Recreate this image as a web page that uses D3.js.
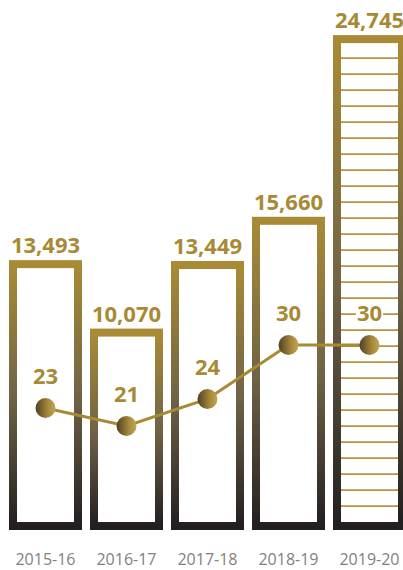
<!DOCTYPE html>
<html>
<head>
<meta charset="utf-8">
<script src="https://cdn.jsdelivr.net/npm/d3@7"></script>
<style>
html,body{margin:0;padding:0;background:#fff;}
svg{display:block;}
</style>
</head>
<body>
<script>
const years = ["2015-16","2016-17","2017-18","2018-19","2019-20"];
const barValues = [13493, 10070, 13449, 15660, 24745];
const lineValues = [23, 21, 24, 30, 30];
const barLabels = ["13,493","10,070","13,449","15,660","24,745"];
const lineLabels = ["23","21","24","30","30"];
const highlightIndex = 4; // striped bar

const W = 403, H = 570;
const gold = "#a88a35";
const stroke = 8;

const svg = d3.select("body").append("svg").attr("width", W).attr("height", H);
const defs = svg.append("defs");

const bg = defs.append("linearGradient").attr("id","barGrad")
  .attr("x1",0).attr("y1",0).attr("x2",0).attr("y2",1);
bg.append("stop").attr("offset","0%").attr("stop-color","#a98b35");
bg.append("stop").attr("offset","50%").attr("stop-color","#716446");
bg.append("stop").attr("offset","100%").attr("stop-color","#231f20");

const cg = defs.append("linearGradient").attr("id","dotGrad")
  .attr("x1",0).attr("y1",0).attr("x2",1).attr("y2",0);
cg.append("stop").attr("offset","0%").attr("stop-color","#4f4024");
cg.append("stop").attr("offset","60%").attr("stop-color","#a4863a");
cg.append("stop").attr("offset","100%").attr("stop-color","#c4a656");

const x = d3.scaleBand().domain(years).range([9, 406]).paddingInner(8/81).paddingOuter(0);
const bw = x.bandwidth();
const y = d3.scaleLinear().domain([0, 25000]).range([530, 30]);
const y2 = d3.scaleLinear().domain([0, 30]).range([615, 345]);

// bars (outlined)
const bars = svg.append("g");
years.forEach((yr, i) => {
  const x0 = x(yr), top = y(barValues[i]);
  if (i === highlightIndex) {
    // horizontal stripes inside
    const innerL = x0 + stroke, innerR = x0 + bw - stroke;
    const innerTop = top + stroke, innerBot = y(0) - stroke;
    for (let ly = innerTop + 15; ly <= innerBot; ly += 16) {
      bars.append("line").attr("x1", innerL).attr("x2", innerR)
        .attr("y1", ly).attr("y2", ly)
        .attr("stroke", "#b3953f").attr("stroke-width", 1.6);
    }
  }
  bars.append("rect")
    .attr("x", x0 + stroke/2).attr("y", top + stroke/2)
    .attr("width", bw - stroke).attr("height", y(0) - top - stroke)
    .attr("fill", "none").attr("stroke", "url(#barGrad)").attr("stroke-width", stroke);
  bars.append("text")
    .attr("x", x0 + bw/2).attr("y", top - 7)
    .attr("text-anchor","middle")
    .attr("font-family","'Open Sans', sans-serif").attr("font-weight",700)
    .attr("font-size", 22).attr("fill", gold)
    .text(barLabels[i]);
});

// line
const line = d3.line().x((d,i) => x(years[i]) + bw/2).y(d => y2(d));
svg.append("path").datum(lineValues).attr("d", line)
  .attr("fill","none").attr("stroke", "#a88a35").attr("stroke-width", 3);

// line labels with white backgrounds
const lg = svg.append("g");
lineValues.forEach((v, i) => {
  const cx = x(years[i]) + bw/2, cy = y2(v);
  const t = lg.append("text")
    .attr("x", cx).attr("y", cy - 24)
    .attr("text-anchor","middle")
    .attr("font-family","'Open Sans', sans-serif").attr("font-weight",700)
    .attr("font-size", 22).attr("fill", gold)
    .text(lineLabels[i]);
  const b = t.node().getBBox();
  lg.insert("rect", () => t.node())
    .attr("x", b.x - 1).attr("y", cy - 24 - 17)
    .attr("width", b.width + 2).attr("height", 19)
    .attr("fill", "#fff");
});

// dots
svg.append("g").selectAll("circle").data(lineValues).join("circle")
  .attr("cx", (d,i) => x(years[i]) + bw/2)
  .attr("cy", d => y2(d))
  .attr("r", 10)
  .attr("fill", "url(#dotGrad)");

// x labels
svg.append("g").selectAll("text").data(years).join("text")
  .attr("x", d => x(d) + bw/2).attr("y", 565)
  .attr("text-anchor","middle")
  .attr("font-family","'Open Sans', sans-serif")
  .attr("font-size", 16).attr("fill", "#7f7f7f")
  .text(d => d);
</script>
</body>
</html>
